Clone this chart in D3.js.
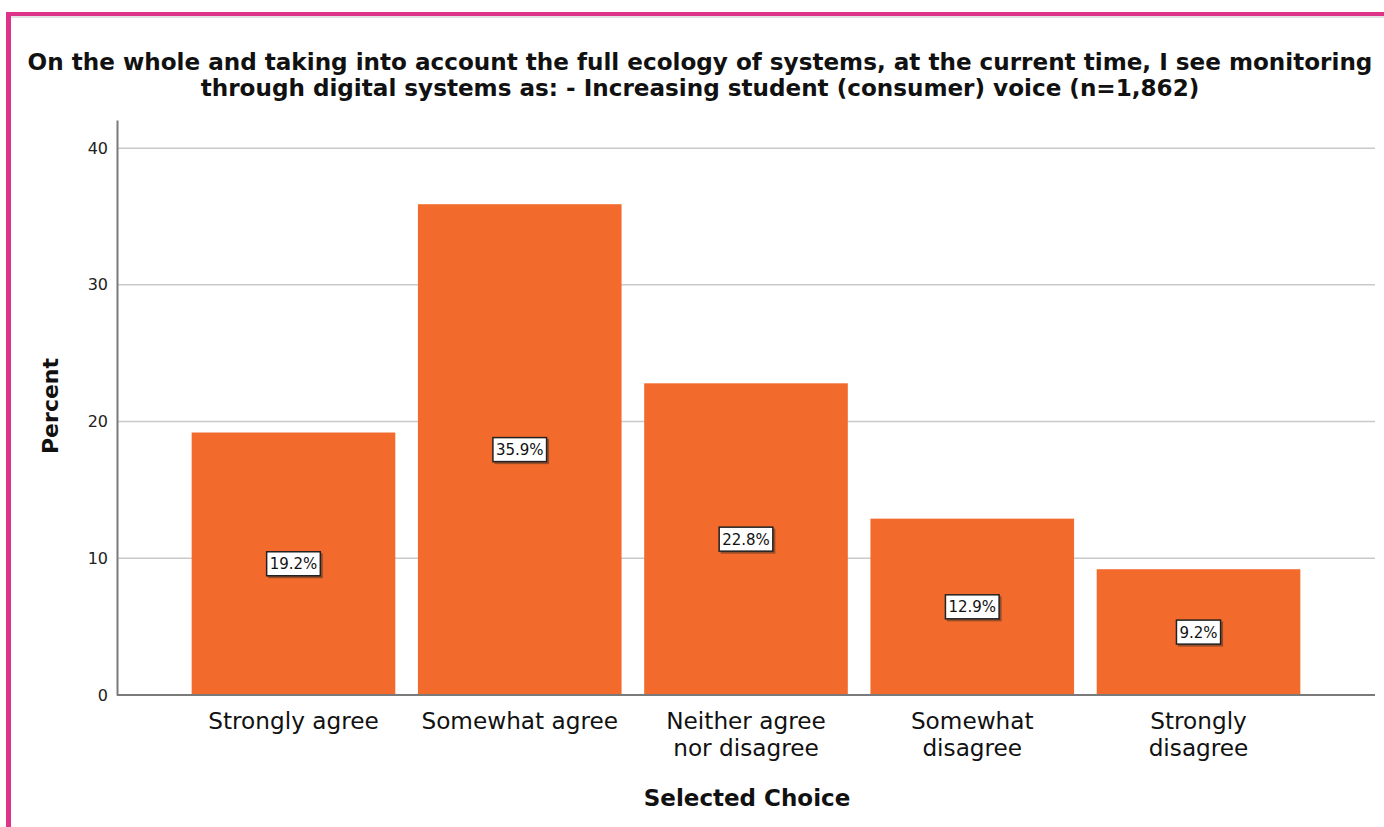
<!DOCTYPE html>
<html>
<head>
<meta charset="utf-8">
<script src="https://cdn.jsdelivr.net/npm/d3@7"></script>
<style>
  html, body { margin: 0; padding: 0; background: #fff; }
  svg { display: block; }
</style>
</head>
<body>
<svg id="chart" width="1384" height="827"></svg>
<script>
// Survey responses (percent of n=1,862)
const categories = [
  ["Strongly agree"],
  ["Somewhat agree"],
  ["Neither agree", "nor disagree"],
  ["Somewhat", "disagree"],
  ["Strongly", "disagree"]
];
const percents = [19.2, 35.9, 22.8, 12.9, 9.2];
const yTicks = [0, 10, 20, 30, 40];
const titleLines = [
  "On the whole and taking into account the full ecology of systems, at the current time, I see monitoring",
  "through digital systems as: - Increasing student (consumer) voice (n=1,862)"
];

const svg = d3.select("#chart");
const font = "'DejaVu Sans', Verdana, sans-serif";
const barColor = "#f26a2c";

// Frame
svg.append("rect").attr("x", 0).attr("y", 0).attr("width", 1384).attr("height", 827).attr("fill", "#fff");
svg.append("line").attr("x1", 6).attr("x2", 1384).attr("y1", 17).attr("y2", 17)
  .attr("stroke", "#c8c8c8").attr("stroke-width", 1);
svg.append("rect").attr("x", 6).attr("y", 12).attr("width", 1378).attr("height", 4).attr("fill", "#dd3489");
svg.append("rect").attr("x", 6).attr("y", 12).attr("width", 5).attr("height", 815).attr("fill", "#dd3489");

// Title
svg.append("text")
  .attr("font-family", font).attr("font-weight", "bold").attr("font-size", 23.1)
  .attr("fill", "#111").attr("text-anchor", "middle")
  .selectAll("tspan").data(titleLines).join("tspan")
  .attr("x", 700).attr("y", (d, i) => 70 + i * 26)
  .text(d => d);

const plot = { left: 117, right: 1375, top: 120, bottom: 695 };

const x = d3.scaleBand()
  .domain(d3.range(categories.length))
  .range([plot.left, plot.right])
  .paddingInner(0.1)
  .paddingOuter(0.33);

const y = d3.scaleLinear().domain([0, 42.06]).range([plot.bottom, plot.top]);

// Gridlines
svg.append("g").selectAll("line").data(yTicks.filter(t => t > 0)).join("line")
  .attr("x1", plot.left).attr("x2", plot.right)
  .attr("y1", d => y(d)).attr("y2", d => y(d))
  .attr("stroke", "#c9c9c9").attr("stroke-width", 1.5);

// Bars
svg.append("g").selectAll("rect").data(percents).join("rect")
  .attr("x", (d, i) => x(i))
  .attr("width", x.bandwidth())
  .attr("y", d => y(d))
  .attr("height", d => y(0) - y(d))
  .attr("fill", barColor);

// Y axis
const yAxis = d3.axisLeft(y).tickValues(yTicks).tickSize(0).tickPadding(9);
const gy = svg.append("g").attr("transform", `translate(${plot.left},0)`).call(yAxis);
gy.select(".domain").attr("stroke", "#7a7a7a").attr("stroke-width", 2);
gy.selectAll("text").attr("font-family", font).attr("font-size", 16).attr("fill", "#222");

// X axis baseline
svg.append("line")
  .attr("x1", plot.left).attr("x2", plot.right)
  .attr("y1", plot.bottom).attr("y2", plot.bottom)
  .attr("stroke", "#7a7a7a").attr("stroke-width", 2);

// Category labels
svg.append("g").selectAll("text").data(categories).join("text")
  .attr("font-family", font).attr("font-size", 23.2).attr("fill", "#111")
  .attr("text-anchor", "middle")
  .each(function(lines, i) {
    d3.select(this).selectAll("tspan").data(lines).join("tspan")
      .attr("x", x(i) + x.bandwidth() / 2)
      .attr("y", (d, j) => 729 + j * 27)
      .text(d => d);
  });

// Value labels in boxes at bar mid-height
const labels = svg.append("g").selectAll("g").data(percents).join("g")
  .attr("transform", (d, i) => `translate(${x(i) + x.bandwidth() / 2},${(y(d) + y(0)) / 2})`);
labels.append("rect").attr("class", "shadow").attr("fill", "#5a3a2a").attr("opacity", 0.6);
labels.append("rect").attr("class", "box")
  .attr("fill", "#fff")
  .attr("stroke", "#222").attr("stroke-width", 1.5);
labels.append("text")
  .attr("font-family", font).attr("font-size", 15).attr("fill", "#111")
  .attr("text-anchor", "middle").attr("dy", "0.36em")
  .text(d => d.toFixed(1) + "%")
  .each(function() {
    const bb = this.getBBox();
    const w = bb.width + 6, h = 24;
    const g = d3.select(this.parentNode);
    g.select(".box").attr("x", -w / 2).attr("y", -h / 2).attr("width", w).attr("height", h);
    g.select(".shadow").attr("x", -w / 2 + 1.5).attr("y", -h / 2 + 1.5).attr("width", w + 1).attr("height", h + 1);
  });

// Axis titles
svg.append("text")
  .attr("transform", "translate(58,406) rotate(-90)")
  .attr("font-family", font).attr("font-weight", "bold").attr("font-size", 22)
  .attr("fill", "#111").attr("text-anchor", "middle")
  .text("Percent");
svg.append("text")
  .attr("x", 747).attr("y", 806)
  .attr("font-family", font).attr("font-weight", "bold").attr("font-size", 23)
  .attr("fill", "#111").attr("text-anchor", "middle")
  .text("Selected Choice");
</script>
</body>
</html>
